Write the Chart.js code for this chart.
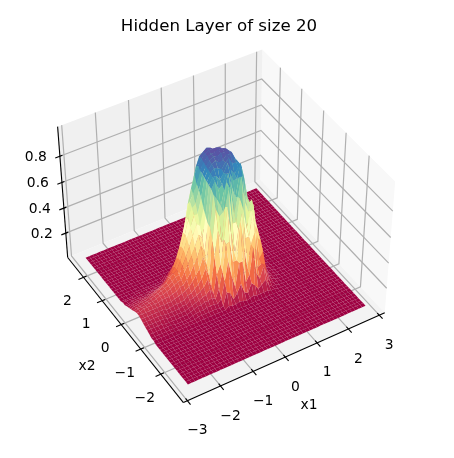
<!DOCTYPE html>
<html>
<head>
<meta charset="utf-8">
<script src="https://cdn.jsdelivr.net/npm/chart.js@4/dist/chart.umd.min.js"></script>
<style>html,body{margin:0;background:#fff}canvas{display:block}</style>
</head>
<body>
<canvas id="surfaceChart" width="454" height="458"></canvas>
<script>
const titleText = 'Hidden Layer of size 20';
const x1Ticks = [-3, -2, -1, 0, 1, 2, 3];
const x2Ticks = [-2, -1, 0, 1, 2];
const zTicks = [0.2, 0.4, 0.6, 0.8];

const x1Grid = [-2.74,-2.63,-2.52,-2.41,-2.29,-2.18,-2.07,-1.96,-1.85,-1.74,-1.63,-1.51,-1.40,-1.29,-1.18,-1.07,-0.96,-0.85,-0.73,-0.62,-0.51,-0.40,-0.29,-0.18,-0.07,0.05,0.16,0.27,0.38,0.49,0.60,0.71,0.83,0.94,1.05,1.16,1.27,1.38,1.49,1.61,1.72,1.83,1.94,2.05,2.16,2.27,2.39,2.50,2.61,2.72,2.83];
const x2Grid = [-2.71,-2.60,-2.50,-2.39,-2.29,-2.18,-2.08,-1.97,-1.87,-1.76,-1.66,-1.55,-1.45,-1.34,-1.24,-1.13,-1.03,-0.92,-0.82,-0.71,-0.61,-0.50,-0.40,-0.29,-0.19,-0.08,0.02,0.13,0.23,0.34,0.44,0.55,0.65,0.76,0.86,0.97,1.07,1.18,1.28,1.39,1.49,1.60,1.70,1.81,1.91,2.02,2.12,2.23,2.33,2.44,2.54];

// height in hundredths, one row per x1 value, one column per x2 value
const zRows = [
[2,2,2,2,2,2,2,2,2,2,2,2,2,2,2,2,3,3,4,5,6,7,8,9,9,8,7,6,5,4,3,3,2,2,2,2,2,2,2,2,2,2,2,2,2,2,2,2,2,2,2],
[2,2,2,2,2,2,2,2,2,2,2,2,2,2,2,2,3,3,4,5,6,7,8,9,9,9,8,7,6,4,3,3,2,2,2,2,2,2,2,2,2,2,2,2,2,2,2,2,2,2,2],
[2,2,2,2,2,2,2,2,2,2,2,2,2,2,2,2,3,3,4,5,6,7,8,9,10,9,8,7,6,5,4,3,2,2,2,2,2,2,2,2,2,2,2,2,2,2,2,2,2,2,2],
[2,2,2,2,2,2,2,2,2,2,2,2,2,2,2,2,3,3,4,5,6,7,8,9,10,9,9,8,6,5,4,3,2,2,2,2,2,2,2,2,2,2,2,2,2,2,2,2,2,2,2],
[2,2,2,2,2,2,2,2,2,2,2,2,2,2,2,2,3,3,4,5,6,7,8,9,10,10,9,8,7,5,4,3,3,2,2,2,2,2,2,2,2,2,2,2,2,2,2,2,2,2,2],
[2,2,2,2,2,2,2,2,2,2,2,2,2,2,2,2,3,3,4,4,6,7,8,9,10,10,10,9,7,5,4,3,3,2,2,2,2,2,2,2,2,2,2,2,2,2,2,2,2,2,2],
[2,2,2,2,2,2,2,2,2,2,2,2,2,2,2,2,3,3,4,4,5,6,8,9,10,11,11,10,8,6,4,3,3,2,2,2,2,2,2,2,2,2,2,2,2,2,2,2,2,2,2],
[2,2,2,2,2,2,2,2,2,2,2,2,2,2,2,2,3,3,3,4,5,6,7,9,11,12,12,11,9,6,5,3,3,2,2,2,2,2,2,2,2,2,2,2,2,2,2,2,2,2,2],
[2,2,2,2,2,2,2,2,2,2,2,2,2,2,2,2,3,3,3,4,5,6,7,9,11,12,13,12,10,7,5,3,3,2,2,2,2,2,2,2,2,2,2,2,2,2,2,2,2,2,2],
[2,2,2,2,2,2,2,2,2,2,2,2,2,2,2,2,3,3,3,4,5,6,8,9,11,13,14,13,11,8,5,4,3,2,2,2,2,2,2,2,2,2,2,2,2,2,2,2,2,2,2],
[2,2,2,2,2,2,2,2,2,2,2,2,2,2,2,2,3,3,3,4,5,6,8,10,12,14,15,15,13,10,6,4,3,2,2,2,2,2,2,2,2,2,2,2,2,2,2,2,2,2,2],
[2,2,2,2,2,2,2,2,2,2,2,2,2,2,2,2,3,3,3,4,5,7,8,11,13,16,17,18,16,12,8,4,3,2,2,2,2,2,2,2,2,2,2,2,2,2,2,2,2,2,2],
[2,2,2,2,2,2,2,2,2,2,2,2,2,2,2,2,3,3,4,5,6,7,9,12,15,17,19,20,19,16,10,5,3,2,2,2,2,2,2,2,2,2,2,2,2,2,2,2,2,2,2],
[2,2,2,2,2,2,2,2,2,2,2,2,2,2,2,2,3,4,5,6,7,9,11,13,16,18,20,22,22,20,16,12,8,5,3,2,2,2,2,2,2,2,2,2,2,2,2,2,2,2,2],
[2,2,2,2,2,2,2,2,2,2,2,2,2,2,2,2,3,4,5,7,8,10,12,15,19,23,26,28,28,26,20,13,7,4,2,2,2,2,2,2,2,2,2,2,2,2,2,2,2,2,2],
[2,2,2,2,2,2,2,2,2,2,2,2,2,2,2,2,3,4,5,7,9,11,14,18,23,28,32,35,36,34,26,16,7,4,2,2,2,2,2,2,2,2,2,2,2,2,2,2,2,2,2],
[2,2,2,2,2,2,2,2,2,2,2,2,2,2,2,2,3,4,6,8,10,13,17,22,28,34,39,43,45,44,34,20,8,4,2,2,2,2,2,2,2,2,2,2,2,2,2,2,2,2,2],
[2,2,2,2,2,2,2,2,2,2,2,2,2,2,2,2,3,4,6,8,11,15,20,26,33,40,46,51,55,55,46,27,10,4,2,2,2,2,2,2,2,2,2,2,2,2,2,2,2,2,2],
[2,2,2,2,2,2,2,2,2,2,2,2,2,2,2,2,3,4,6,9,14,20,27,34,41,48,54,59,63,66,62,42,14,5,2,2,2,2,2,2,2,2,2,2,2,2,2,2,2,2,2],
[2,2,2,2,2,2,2,2,2,2,2,2,2,2,2,2,3,3,5,7,10,14,20,27,35,44,52,59,65,70,73,58,22,6,2,2,2,2,2,2,2,2,2,2,2,2,2,2,2,2,2],
[2,2,2,2,2,2,2,2,2,2,2,2,2,2,2,2,3,4,8,14,24,36,47,55,56,60,64,70,74,77,82,74,36,9,3,2,2,2,2,2,2,2,2,2,2,2,2,2,2,2,2],
[2,2,2,2,2,2,2,2,2,2,2,2,2,2,2,2,5,14,21,27,31,55,70,79,81,82,83,84,85,86,88,85,55,14,3,2,2,2,2,2,2,2,2,2,2,2,2,2,2,2,2],
[2,2,2,2,2,2,2,2,2,2,2,2,2,2,2,2,4,12,36,47,49,45,63,74,86,87,88,89,90,91,92,92,70,22,4,2,2,2,2,2,2,2,2,2,2,2,2,2,2,2,2],
[2,2,2,2,2,2,2,2,2,2,2,2,2,2,2,2,4,6,23,48,73,71,65,68,79,87,91,92,93,94,95,94,78,28,5,2,2,2,2,2,2,2,2,2,2,2,2,2,2,2,2],
[2,2,2,2,2,2,2,2,2,2,2,2,2,2,2,2,5,10,13,31,52,83,87,79,81,83,90,94,95,95,96,96,80,30,6,2,2,2,2,2,2,2,2,2,2,2,2,2,2,2,2],
[2,2,2,2,2,2,2,2,2,2,2,2,2,2,2,2,4,16,31,31,34,56,80,90,88,87,88,91,94,95,96,95,72,26,6,2,2,2,2,2,2,2,2,2,2,2,2,2,2,2,2],
[2,2,2,2,2,2,2,2,2,2,2,2,2,2,2,2,3,8,31,60,52,56,61,79,88,93,92,92,95,96,96,90,60,20,5,2,2,2,2,2,2,2,2,2,2,2,2,2,2,2,2],
[2,2,2,2,2,2,2,2,2,2,2,2,2,2,2,2,4,6,13,39,64,73,72,70,81,87,94,95,95,96,95,82,45,14,4,2,2,2,2,2,2,2,2,2,2,2,2,2,2,2,2],
[2,2,2,2,2,2,2,2,2,2,2,2,2,2,2,2,5,13,18,22,43,63,87,84,81,83,89,94,95,95,92,70,32,10,3,2,2,2,2,2,2,2,2,2,2,2,2,2,2,2,2],
[2,2,2,2,2,2,2,2,2,2,2,2,2,2,2,2,4,10,38,39,43,48,67,84,92,87,89,90,93,92,84,54,22,7,3,2,2,2,2,2,2,2,2,2,2,2,2,2,2,2,2],
[2,2,2,2,2,2,2,2,2,2,2,2,2,2,2,2,4,6,17,47,61,60,58,66,80,85,87,87,87,84,70,38,14,5,2,2,2,2,2,2,2,2,2,2,2,2,2,2,2,2,2],
[2,2,2,2,2,2,2,2,2,2,2,2,2,2,2,2,4,8,11,18,43,60,66,62,64,70,74,78,77,72,56,27,9,4,2,2,2,2,2,2,2,2,2,2,2,2,2,2,2,2,2],
[2,2,2,2,2,2,2,2,2,2,2,2,2,2,2,2,4,11,20,20,22,37,48,59,55,56,58,61,58,50,34,15,6,3,2,2,2,2,2,2,2,2,2,2,2,2,2,2,2,2,2],
[2,2,2,2,2,2,2,2,2,2,2,2,2,2,2,2,3,5,10,18,27,33,37,39,40,40,39,36,32,26,17,8,4,2,2,2,2,2,2,2,2,2,2,2,2,2,2,2,2,2,2],
[2,2,2,2,2,2,2,2,2,2,2,2,2,2,2,2,3,3,5,8,11,14,16,18,18,18,17,15,13,10,6,4,3,2,2,2,2,2,2,2,2,2,2,2,2,2,2,2,2,2,2],
[2,2,2,2,2,2,2,2,2,2,2,2,2,2,2,2,2,3,3,4,5,6,6,7,7,7,6,5,4,4,3,3,2,2,2,2,2,2,2,2,2,2,2,2,2,2,2,2,2,2,2],
[2,2,2,2,2,2,2,2,2,2,2,2,2,2,2,2,2,2,3,3,3,3,3,4,4,3,3,3,3,3,2,2,2,2,2,2,2,2,2,2,2,2,2,2,2,2,2,2,2,2,2],
[2,2,2,2,2,2,2,2,2,2,2,2,2,2,2,2,2,2,2,2,3,3,3,3,3,3,3,3,2,2,2,2,2,2,2,2,2,2,2,2,2,2,2,2,2,2,2,2,2,2,2],
[2,2,2,2,2,2,2,2,2,2,2,2,2,2,2,2,2,2,2,2,2,2,2,2,2,2,2,2,2,2,2,2,2,2,2,2,2,2,2,2,2,2,2,2,2,2,2,2,2,2,2],
[2,2,2,2,2,2,2,2,2,2,2,2,2,2,2,2,2,2,2,2,2,2,2,2,2,2,2,2,2,2,2,2,2,2,2,2,2,2,2,2,2,2,2,2,2,2,2,2,2,2,2],
[2,2,2,2,2,2,2,2,2,2,2,2,2,2,2,2,2,2,2,2,2,2,2,2,2,2,2,2,2,2,2,2,2,2,2,2,2,2,2,2,2,2,2,2,2,2,2,2,2,2,2],
[2,2,2,2,2,2,2,2,2,2,2,2,2,2,2,2,2,2,2,2,2,2,2,2,2,2,2,2,2,2,2,2,2,2,2,2,2,2,2,2,2,2,2,2,2,2,2,2,2,2,2],
[2,2,2,2,2,2,2,2,2,2,2,2,2,2,2,2,2,2,2,2,2,2,2,2,2,2,2,2,2,2,2,2,2,2,2,2,2,2,2,2,2,2,2,2,2,2,2,2,2,2,2],
[2,2,2,2,2,2,2,2,2,2,2,2,2,2,2,2,2,2,2,2,2,2,2,2,2,2,2,2,2,2,2,2,2,2,2,2,2,2,2,2,2,2,2,2,2,2,2,2,2,2,2],
[2,2,2,2,2,2,2,2,2,2,2,2,2,2,2,2,2,2,2,2,2,2,2,2,2,2,2,2,2,2,2,2,2,2,2,2,2,2,2,2,2,2,2,2,2,2,2,2,2,2,2],
[2,2,2,2,2,2,2,2,2,2,2,2,2,2,2,2,2,2,2,2,2,2,2,2,2,2,2,2,2,2,2,2,2,2,2,2,2,2,2,2,2,2,2,2,2,2,2,2,2,2,2],
[2,2,2,2,2,2,2,2,2,2,2,2,2,2,2,2,2,2,2,2,2,2,2,2,2,2,2,2,2,2,2,2,2,2,2,2,2,2,2,2,2,2,2,2,2,2,2,2,2,2,2],
[2,2,2,2,2,2,2,2,2,2,2,2,2,2,2,2,2,2,2,2,2,2,2,2,2,2,2,2,2,2,2,2,2,2,2,2,2,2,2,2,2,2,2,2,2,2,2,2,2,2,2],
[2,2,2,2,2,2,2,2,2,2,2,2,2,2,2,2,2,2,2,2,2,2,2,2,2,2,2,2,2,2,2,2,2,2,2,2,2,2,2,2,2,2,2,2,2,2,2,2,2,2,2],
[2,2,2,2,2,2,2,2,2,2,2,2,2,2,2,2,2,2,2,2,2,2,2,2,2,2,2,2,2,2,2,2,2,2,2,2,2,2,2,2,2,2,2,2,2,2,2,2,2,2,2],
[2,2,2,2,2,2,2,2,2,2,2,2,2,2,2,2,2,2,2,2,2,2,2,2,2,2,2,2,2,2,2,2,2,2,2,2,2,2,2,2,2,2,2,2,2,2,2,2,2,2,2],
];

// matplotlib Spectral
const spectral = [[158,1,66],[213,62,79],[244,109,67],[253,174,97],[254,224,139],[255,255,191],[230,245,152],[171,221,164],[102,194,165],[50,136,189],[94,79,162]];

const x1Lim = [-3.12, 3.18], x2Lim = [-3.1, 2.87], zLim = [0, 1.02];
const camera = [
  [218.82837, -110.61691, -14.53524, 183.40795],
  [-75.64228, -125.60643, -148.88812, 402.54626],
  [0.04545, 0.07549, -0.06432, 1],
];

function boxPoint(a, b, c) {
  const [p, q, r] = camera;
  const w = r[0] * a + r[1] * b + r[2] * c + r[3];
  return { x: (p[0] * a + p[1] * b + p[2] * c + p[3]) / w, y: (q[0] * a + q[1] * b + q[2] * c + q[3]) / w, w };
}
const toA = (v) => (v - x1Lim[0]) / (x1Lim[1] - x1Lim[0]);
const toB = (v) => (v - x2Lim[0]) / (x2Lim[1] - x2Lim[0]);
const toC = (v) => (v - zLim[0]) / (zLim[1] - zLim[0]);

function spectralColor(t) {
  const f = Math.min(Math.max(t, 0), 1) * (spectral.length - 1);
  const k = Math.min(Math.floor(f), spectral.length - 2);
  const m = f - k;
  const c = spectral[k].map((v, n) => Math.round(v + (spectral[k + 1][n] - v) * m));
  return `rgb(${c[0]},${c[1]},${c[2]})`;
}

const flat = zRows.flat();
const zMin = Math.min(...flat), zMax = Math.max(...flat);

const quads = [];
for (let i = 0; i < x1Grid.length - 1; i++) {
  for (let j = 0; j < x2Grid.length - 1; j++) {
    const corners = [[i, j], [i + 1, j], [i + 1, j + 1], [i, j + 1]];
    const pts = corners.map(([m, n]) => boxPoint(toA(x1Grid[m]), toB(x2Grid[n]), toC(zRows[m][n] / 100)));
    const mean = corners.reduce((s, [m, n]) => s + zRows[m][n], 0) / 4;
    quads.push({ pts, mean, depth: pts.reduce((s, p) => s + p.w, 0) / 4 });
  }
}
quads.sort((q, r) => q.depth - r.depth);

const surfaceSets = quads.map((q) => ({
  data: q.pts.map((p) => ({ x: p.x, y: p.y })),
  backgroundColor: spectralColor((q.mean - zMin) / (zMax - zMin)),
  borderWidth: 0, fill: 'shape',
}));

const seg = (color, width, ...pts) => ({
  data: pts.map(([a, b, c]) => { const p = boxPoint(a, b, c); return { x: p.x, y: p.y }; }),
  borderColor: color, borderWidth: width, fill: false,
});
const pane = (color, ...pts) => ({
  data: pts.map(([a, b, c]) => { const p = boxPoint(a, b, c); return { x: p.x, y: p.y }; }),
  backgroundColor: color, borderWidth: 0, fill: 'shape',
});

const axisSets = [];
x1Ticks.forEach((t) => axisSets.push(seg('#000', 1.1, [toA(t), -0.025, 0], [toA(t), 0.015, 0])));
x2Ticks.forEach((t) => axisSets.push(seg('#000', 1.1, [-0.025, toB(t), 0], [0.015, toB(t), 0])));
zTicks.forEach((t) => axisSets.push(seg('#000', 1.1, [-0.022, 1, toC(t)], [0.012, 1, toC(t)])));
axisSets.push(seg('#000', 1.1, [0, 0, 0], [1, 0, 0]));
axisSets.push(seg('#000', 1.1, [0, 0, 0], [0, 1, 0]));
axisSets.push(seg('#000', 1.1, [0, 1, 0], [0, 1, 1]));

const gridSets = [];
x1Ticks.forEach((t) => gridSets.push(seg('#b0b0b0', 1.2, [toA(t), 0, 0], [toA(t), 1, 0], [toA(t), 1, 1])));
x2Ticks.forEach((t) => gridSets.push(seg('#b0b0b0', 1.2, [0, toB(t), 0], [1, toB(t), 0], [1, toB(t), 1])));
zTicks.forEach((t) => gridSets.push(seg('#b0b0b0', 1.2, [0, 1, toC(t)], [1, 1, toC(t)], [1, 0, toC(t)])));

const paneSets = [
  pane('#f3f3f3', [0, 0, 0], [1, 0, 0], [1, 1, 0], [0, 1, 0]),
  pane('#f0f0f0', [0, 1, 0], [1, 1, 0], [1, 1, 1], [0, 1, 1]),
  pane('#f8f8f8', [1, 1, 0], [1, 0, 0], [1, 0, 1], [1, 1, 1]),
];

const minus = (t) => String(t).replace('-', '\u2212');

const textPlugin = {
  id: 'boxText',
  afterDraw(chart) {
    const { ctx, scales: { x, y } } = chart;
    const put = (text, px, py, size, align) => {
      ctx.font = `${size}px "DejaVu Sans"`;
      ctx.textAlign = align || 'center';
      ctx.fillText(text, x.getPixelForValue(px), y.getPixelForValue(py));
    };
    ctx.save();
    ctx.fillStyle = '#000';
    ctx.textBaseline = 'middle';
    x1Ticks.forEach((t) => { const p = boxPoint(toA(t), 0, 0); put(minus(t), p.x + 10, p.y + 30, 13.89); });
    x2Ticks.forEach((t) => { const p = boxPoint(0, toB(t), 0); put(minus(t), p.x - 16, p.y + 24, 13.89); });
    zTicks.forEach((t) => { const p = boxPoint(0, 1, toC(t)); put(t.toFixed(1), p.x - 13, p.y + 1, 13.89, 'right'); });
    put('x1', 309, 405, 13.89);
    put('x2', 87, 366, 13.89);
    put(titleText, 219, 27, 16.67);
    ctx.restore();
  },
};

new Chart(document.getElementById('surfaceChart'), {
  type: 'scatter',
  data: { datasets: [...surfaceSets, ...axisSets, ...gridSets, ...paneSets] },
  options: {
    responsive: false, animation: false, events: [],
    layout: { padding: 0 },
    elements: { point: { radius: 0 }, line: { tension: 0 } },
    datasets: { scatter: { showLine: true, clip: false } },
    plugins: { legend: { display: false }, tooltip: { enabled: false }, title: { display: false } },
    scales: {
      x: { type: 'linear', min: 0, max: 454, display: false },
      y: { type: 'linear', min: 0, max: 458, reverse: true, display: false },
    },
  },
  plugins: [textPlugin],
});
</script>
</body>
</html>
